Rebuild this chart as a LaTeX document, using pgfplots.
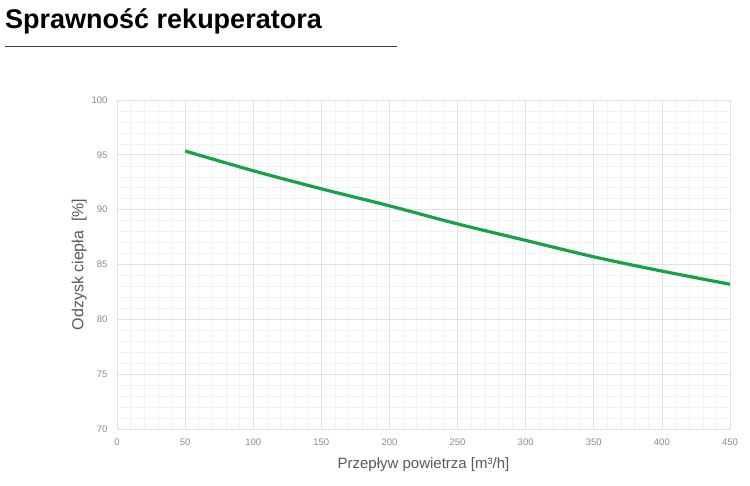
\documentclass[border=0pt]{standalone}
\usepackage{pgfplots}
\pgfplotsset{compat=1.18}
\usepackage{fontspec}
\setmainfont{Liberation Sans}
\definecolor{linegreen}{HTML}{16A24A}
\definecolor{gridmaj}{HTML}{E2E2E2}
\definecolor{gridmin}{HTML}{F2F2F2}
\definecolor{ticktxt}{HTML}{8A8A8A}
\definecolor{labtxt}{HTML}{595959}
\begin{document}
\begin{tikzpicture}[x=1pt,y=1pt]
\path[use as bounding box] (0pt,0pt) rectangle (750pt,-486pt);
\node[anchor=base west,inner sep=0pt,font=\fontsize{27}{30}\selectfont\bfseries,text=black] at (5pt,-29pt) {Sprawność rekuperatora};
\draw[color=black!75,line width=0.9pt] (5pt,-46pt) -- (397pt,-46pt);
\begin{axis}[
  at={(117pt,-429pt)}, anchor=south west,
  scale only axis, width=613pt, height=329pt,
  xmin=0, xmax=450, ymin=70, ymax=100,
  xtick={0,50,...,450}, ytick={70,75,...,100},
  minor x tick num=4, minor y tick num=4,
  grid=both,
  major grid style={color=gridmaj,line width=0.7pt},
  minor grid style={color=gridmin,line width=0.5pt},
  axis line style={color=gridmaj,line width=0.8pt},
  major tick length=0pt, minor tick length=0pt,
  tick label style={font=\fontsize{9.5}{11}\selectfont,text=ticktxt},
  /pgf/number format/assume math mode=true,
  xticklabel style={yshift=-6pt},
  yticklabel style={xshift=-6pt},
  xlabel={Przepływ powietrza [m³/h]},
  ylabel={Odzysk ciepła\ \ [\%]},
  xlabel style={font=\fontsize{15}{17}\selectfont,text=labtxt,yshift=-6pt},
  ylabel style={font=\fontsize{16}{18}\selectfont,text=labtxt,yshift=-2pt},
]
\addplot[color=linegreen,line width=3.2pt,smooth] coordinates {
  (50,95.35) (100,93.55) (150,91.9) (200,90.35) (250,88.7)
  (300,87.2) (350,85.7) (400,84.4) (450,83.2)
};
\end{axis}
\end{tikzpicture}
\end{document}
